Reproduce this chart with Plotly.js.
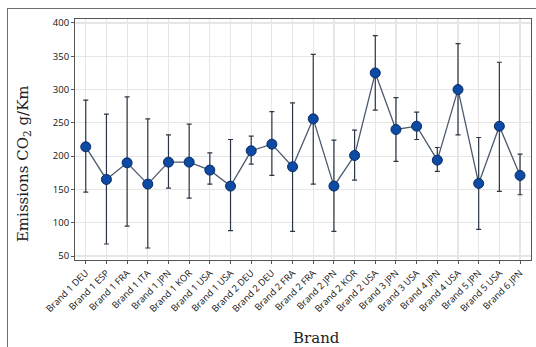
<!DOCTYPE html>
<html>
<head>
<meta charset="utf-8">
<script src="https://cdn.plot.ly/plotly-3.0.1.min.js"></script>
<style>
  html, body { margin: 0; padding: 0; background: #fff; }
  #wrap { position: relative; width: 536px; height: 347px; }
  #frame { position: absolute; left: 7px; top: 8px; width: 540px; height: 360px;
           border-top: 1px solid #6e6e6e; border-left: 1px solid #6e6e6e; pointer-events: none; }
  #chart { position: absolute; left: 0; top: 0; width: 536px; height: 347px; }
</style>
</head>
<body>
<div id="wrap">
  <div id="chart"></div>
  <div id="frame"></div>
</div>
<script>
const categories = ["Brand 1 DEU","Brand 1 ESP","Brand 1 FRA","Brand 1 ITA","Brand 1 JPN","Brand 1 KOR",
  "Brand 1 USA","Brand 1 USA","Brand 2 DEU","Brand 2 DEU","Brand 2 FRA","Brand 2 FRA","Brand 2 JPN",
  "Brand 2 KOR","Brand 2 USA","Brand 3 JPN","Brand 3 USA","Brand 4 JPN","Brand 4 USA","Brand 5 JPN",
  "Brand 5 USA","Brand 6 JPN"];
const meanValues = [214, 165, 190, 158, 191, 191, 179, 155, 208, 218, 184, 256, 155, 201, 325, 240, 245, 194, 300, 159, 245, 171];
const upperValues = [284, 263, 289, 256, 232, 248, 205, 225, 230, 267, 280, 353, 224, 239, 381, 288, 266, 213, 369, 228, 341, 203];
const lowerValues = [146, 68, 95, 62, 152, 137, 158, 88, 188, 171, 87, 158, 87, 164, 269, 192, 225, 177, 232, 90, 147, 142];
const yTickValues = [50, 100, 150, 200, 250, 300, 350, 400];

const xIdx = categories.map((c, i) => i);
const errPlus = meanValues.map((v, i) => upperValues[i] - v);
const errMinus = meanValues.map((v, i) => v - lowerValues[i]);

const trace = {
  x: xIdx,
  y: meanValues,
  type: 'scatter',
  mode: 'lines+markers',
  line: { color: '#4b5a6e', width: 1.3 },
  marker: { size: 10, color: '#0d4aa3', line: { color: '#0a2c66', width: 1 } },
  error_y: {
    type: 'data', symmetric: false,
    array: errPlus, arrayminus: errMinus,
    color: '#2c3644', thickness: 1.2, width: 2.5
  },
  hoverinfo: 'skip'
};

const layout = {
  width: 536, height: 347,
  margin: { l: 75, r: 5, t: 19, b: 87 },
  paper_bgcolor: 'rgba(0,0,0,0)',
  plot_bgcolor: '#ffffff',
  showlegend: false,
  xaxis: {
    range: [-0.52, 21.53],
    tickmode: 'array', tickvals: xIdx, ticktext: categories,
    tickangle: -45,
    tickfont: { family: 'Open Sans, sans-serif', size: 9.3, color: '#111' },
    showgrid: true, gridcolor: '#e6e6e6', gridwidth: 1.2,
    zeroline: false,
    showline: true, linecolor: '#555', linewidth: 1, mirror: true,
    ticks: 'outside', ticklen: 3, tickcolor: '#555', tickwidth: 1
  },
  yaxis: {
    range: [44, 406],
    tickmode: 'array', tickvals: yTickValues,
    tickfont: { family: 'Open Sans, sans-serif', size: 9.5, color: '#111' },
    showgrid: true, gridcolor: '#e6e6e6', gridwidth: 1.2,
    zeroline: false,
    showline: true, linecolor: '#555', linewidth: 1, mirror: true,
    ticks: 'outside', ticklen: 3, tickcolor: '#555', tickwidth: 1
  },
  annotations: [
    { text: 'Brand', xref: 'paper', yref: 'paper', x: 0.529, y: 0,
      yshift: -78, xanchor: 'center', yanchor: 'middle', showarrow: false,
      font: { family: 'DejaVu Serif, Liberation Serif, serif', size: 15, color: '#222' } },
    { text: 'Emissions CO<sub>2</sub> g/Km', xref: 'paper', yref: 'paper', x: 0, y: 0.398,
      xshift: -52, xanchor: 'center', yanchor: 'middle', textangle: -90, showarrow: false,
      font: { family: 'DejaVu Serif, Liberation Serif, serif', size: 15, color: '#222' } }
  ]
};

Plotly.newPlot('chart', [trace], layout, { displayModeBar: false, staticPlot: true });
</script>
</body>
</html>
